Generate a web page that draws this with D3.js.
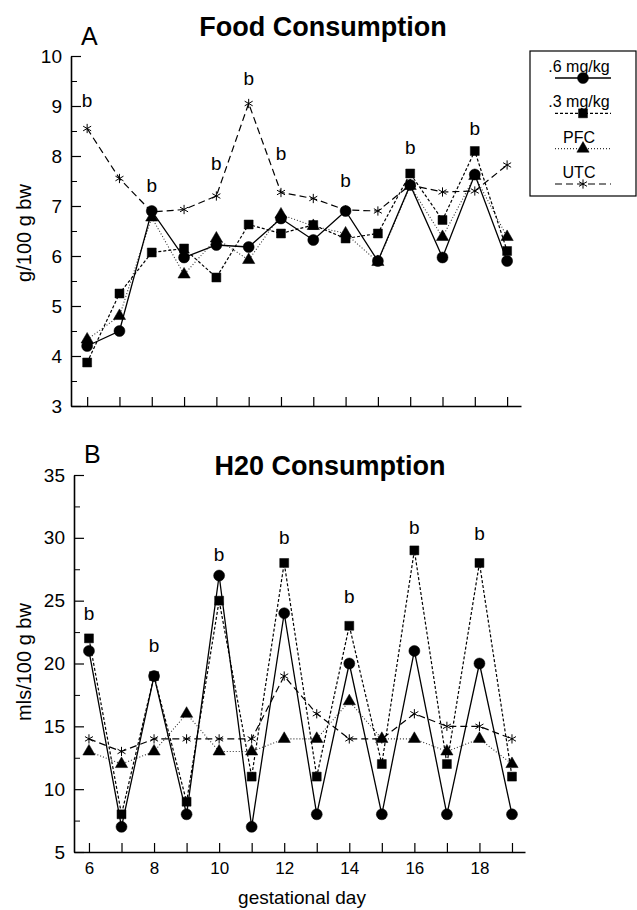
<!DOCTYPE html>
<html>
<head>
<meta charset="utf-8">
<script src="https://cdn.jsdelivr.net/npm/d3@7"></script>
<style>
  body { margin: 0; background: #fff; }
  svg { display: block; font-family: "Liberation Sans", Arial, sans-serif; }
</style>
</head>
<body>
<svg id="drawing_region" width="637" height="910"></svg>
<script>
// gestational days
const days = [6, 7, 8, 9, 10, 11, 12, 13, 14, 15, 16, 17, 18, 19];
const evenDays = [6, 8, 10, 12, 14, 16, 18];

// panel A: food consumption (g/100 g bw)
const foodHigh = [4.2, 4.5, 6.9, 5.97, 6.22, 6.18, 6.75, 6.32, 6.9, 5.9, 7.42, 5.97, 7.63, 5.9];
const foodLow  = [3.87, 5.25, 6.07, 6.15, 5.57, 6.63, 6.45, 6.62, 6.35, 6.45, 7.65, 6.72, 8.1, 6.1];
const foodPFC  = [4.33, 4.8, 6.77, 5.63, 6.35, 5.92, 6.83, 6.6, 6.45, 5.88, 7.4, 6.38, 7.6, 6.38];
const foodUTC  = [8.55, 7.55, 6.88, 6.93, 7.2, 9.05, 7.27, 7.15, 6.92, 6.9, 7.42, 7.28, 7.3, 7.82];
const foodBDays = [6, 8, 10, 11, 12, 14, 16, 18];
const foodBVals = [8.98, 7.28, 7.72, 9.42, 7.92, 7.38, 8.04, 8.42];
const foodTicks = [3, 4, 5, 6, 7, 8, 9, 10];
const foodMinor = [3.5, 4.5, 5.5, 6.5, 7.5, 8.5, 9.5];

// panel B: H2O consumption (mls/100 g bw)
const h2oHigh = [21, 7, 19, 8, 27, 7, 24, 8, 20, 8, 21, 8, 20, 8];
const h2oLow  = [22, 8, 19, 9, 25, 11, 28, 11, 23, 12, 29, 12, 28, 11];
const h2oPFC  = [13, 12, 13, 16, 13, 13, 14, 14, 17, 14, 14, 13, 14, 12];
const h2oUTC  = [14, 13, 14, 14, 14, 14, 19, 16, 14, 14, 16, 15, 15, 14];
const h2oBDays = [6, 8, 10, 12, 14, 16, 18];
const h2oBVals = [23.5, 20.9, 28.15, 29.5, 24.8, 30.3, 29.8];
const h2oTicks = [5, 10, 15, 20, 25, 30, 35];
const h2oMinor = [7.5, 12.5, 17.5, 22.5, 27.5, 32.5];

const seriesNames = [".6 mg/kg", ".3 mg/kg", "PFC", "UTC"];

var svg = d3.select('#drawing_region');

// line / marker styles per series
const styles = {
    ".6 mg/kg": { dash: null, width: 1.3, color: "#000", symbol: d3.symbolCircle, size: 95, fill: true },
    ".3 mg/kg": { dash: "3,2", width: 1.2, color: "#000", symbol: d3.symbolSquare, size: 80, fill: true },
    "PFC":      { dash: "1,2", width: 1.1, color: "#333", symbol: d3.symbolTriangle, size: 65, fill: true },
    "UTC":      { dash: "7,4", width: 1.2, color: "#000", symbol: d3.symbolAsterisk, size: 60, fill: false }
};

function drawPanel(opt) {
    const x = d3.scaleLinear().domain(opt.xdomain).range(opt.xrange);
    const y = d3.scaleLinear().domain(opt.ydomain).range(opt.yrange);
    const g = svg.append('g');

    // x axis, ticks pointing up
    const xaxis = d3.axisBottom(x)
        .tickValues(days)
        .tickSizeInner(-9)
        .tickSizeOuter(0)
        .tickFormat(d => opt.xlabels && evenDays.includes(d) ? d : "");
    const xg = g.append('g')
        .attr('transform', `translate(0, ${opt.yrange[0]})`)
        .call(xaxis);
    xg.select('.domain').attr('stroke-width', 1.6);
    xg.selectAll('.tick line').attr('stroke-width', 1.2);
    xg.selectAll('.tick text')
        .attr('font-size', 17)
        .attr('dy', '1.1em')
        .attr('fill', '#000');

    // y axis, ticks pointing in
    const yaxis = d3.axisLeft(y)
        .tickValues(opt.yticks)
        .tickSizeInner(-10)
        .tickSizeOuter(0)
        .tickPadding(9)
        .tickFormat(d3.format("d"));
    const yg = g.append('g')
        .attr('transform', `translate(${opt.xrange[0]}, 0)`)
        .call(yaxis);
    yg.select('.domain').attr('stroke-width', 1.6);
    yg.selectAll('.tick line').attr('stroke-width', 1.2);
    yg.selectAll('.tick text').attr('font-size', 19).attr('fill', '#000');

    const minorAxis = d3.axisLeft(y)
        .tickValues(opt.yminor)
        .tickSizeInner(-6)
        .tickSizeOuter(0)
        .tickFormat("");
    g.append('g')
        .attr('transform', `translate(${opt.xrange[0]}, 0)`)
        .call(minorAxis)
        .call(s => s.select('.domain').remove());

    // series, circles last so they sit on top
    const order = ["UTC", "PFC", ".3 mg/kg", ".6 mg/kg"];
    order.forEach(name => {
        const st = styles[name];
        const vals = opt.series[name];
        const pts = days.map((d, i) => [d, vals[i]]);
        const line = d3.line().x(d => x(d[0])).y(d => y(d[1]));
        g.append('path')
            .attr('d', line(pts))
            .attr('fill', 'none')
            .attr('stroke', st.color)
            .attr('stroke-width', st.width)
            .attr('stroke-dasharray', st.dash);
        g.selectAll(null)
            .data(pts)
            .join('path')
            .attr('transform', d => `translate(${x(d[0])}, ${y(d[1])})`)
            .attr('d', d3.symbol(st.symbol, st.size))
            .attr('fill', st.fill ? '#000' : 'none')
            .attr('stroke', '#000')
            .attr('stroke-width', st.fill ? 0.5 : 1);
    });

    // significance letters
    g.selectAll(null)
        .data(opt.bdays)
        .join('text')
        .attr('x', d => x(d))
        .attr('y', (d, i) => y(opt.bvals[i]))
        .attr('text-anchor', 'middle')
        .attr('font-size', 19)
        .text('b');

    // panel letter, title, y label
    g.append('text')
        .attr('x', opt.letterPos[0]).attr('y', opt.letterPos[1])
        .attr('font-size', 25)
        .text(opt.letter);
    g.append('text')
        .attr('x', opt.titlePos[0]).attr('y', opt.titlePos[1])
        .attr('text-anchor', 'middle')
        .attr('font-size', 27)
        .attr('font-weight', 'bold')
        .text(opt.title);
    g.append('text')
        .attr('transform', `translate(${opt.ylabelPos[0]}, ${opt.ylabelPos[1]}) rotate(-90)`)
        .attr('text-anchor', 'middle')
        .attr('font-size', 20)
        .text(opt.ylabel);
}

drawPanel({
    xdomain: [5.5, 19.43], xrange: [71, 521],
    ydomain: [3, 10], yrange: [406, 56],
    yticks: foodTicks, yminor: foodMinor,
    xlabels: false,
    series: { ".6 mg/kg": foodHigh, ".3 mg/kg": foodLow, "PFC": foodPFC, "UTC": foodUTC },
    bdays: foodBDays, bvals: foodBVals,
    letter: "A", letterPos: [81, 45],
    title: "Food Consumption", titlePos: [323, 36],
    ylabel: "g/100 g bw", ylabelPos: [31, 233]
});

drawPanel({
    xdomain: [5.54, 19.4], xrange: [74, 525],
    ydomain: [5, 35], yrange: [852, 475],
    yticks: h2oTicks, yminor: h2oMinor,
    xlabels: true,
    series: { ".6 mg/kg": h2oHigh, ".3 mg/kg": h2oLow, "PFC": h2oPFC, "UTC": h2oUTC },
    bdays: h2oBDays, bvals: h2oBVals,
    letter: "B", letterPos: [84, 463],
    title: "H20 Consumption", titlePos: [330, 475],
    ylabel: "mls/100 g bw", ylabelPos: [31, 662]
});

// x axis title
svg.append('text')
    .attr('x', 302).attr('y', 904)
    .attr('text-anchor', 'middle')
    .attr('font-size', 19)
    .text('gestational day');

// legend
const legend = svg.append('g');
legend.append('rect')
    .attr('x', 530).attr('y', 51)
    .attr('width', 106).attr('height', 145)
    .attr('fill', 'none')
    .attr('stroke', '#000')
    .attr('stroke-width', 1.2);

const legendY = d3.scalePoint().domain(seriesNames).range([78, 184]);
seriesNames.forEach(name => {
    const st = styles[name];
    const ly = legendY(name);
    legend.append('text')
        .attr('x', 579).attr('y', ly - 6)
        .attr('text-anchor', 'middle')
        .attr('font-size', 16)
        .text(name);
    legend.append('line')
        .attr('x1', 555).attr('x2', 611)
        .attr('y1', ly).attr('y2', ly)
        .attr('stroke', st.color)
        .attr('stroke-width', st.width)
        .attr('stroke-dasharray', st.dash);
    legend.append('path')
        .attr('transform', `translate(583, ${ly})`)
        .attr('d', d3.symbol(st.symbol, st.size))
        .attr('fill', st.fill ? '#000' : 'none')
        .attr('stroke', '#000')
        .attr('stroke-width', st.fill ? 0.5 : 1);
});
</script>
</body>
</html>
